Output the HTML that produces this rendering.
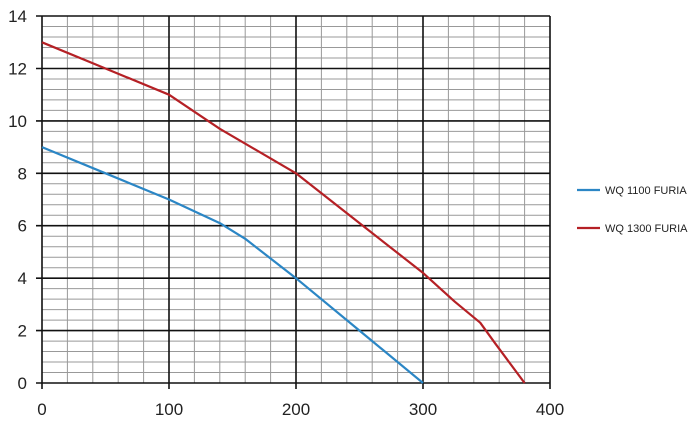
<!DOCTYPE html><html><head><style>body{margin:0;background:#fff}</style></head><body>
<svg width="698" height="422" xmlns="http://www.w3.org/2000/svg" font-family="Liberation Sans, sans-serif">
<path fill="none" stroke="#999" stroke-width="1" d="M67.4 16V383M92.8 16V383M118.2 16V383M143.6 16V383M194.4 16V383M219.8 16V383M245.2 16V383M270.6 16V383M321.4 16V383M346.8 16V383M372.2 16V383M397.6 16V383M448.4 16V383M473.8 16V383M499.2 16V383M524.6 16V383
M42 372.5H550M42 362H550M42 351.5H550M42 341.1H550M42 320.1H550M42 309.6H550M42 299.1H550M42 288.6H550M42 267.7H550M42 257.2H550M42 246.7H550M42 236.2H550M42 215.3H550M42 204.8H550M42 194.3H550M42 183.8H550M42 162.8H550M42 152.3H550M42 141.9H550M42 131.4H550M42 110.4H550M42 99.9H550M42 89.5H550M42 79H550M42 58H550M42 47.5H550M42 37H550M42 26.5H550"/>
<path fill="none" stroke="#111" stroke-width="1.6" d="M42 16V389M169 16V389M296 16V389M423 16V389M550 16V389
M36 383H550M36 330.6H550M36 278.2H550M36 225.7H550M36 173.3H550M36 120.9H550M36 68.5H550M36 16H550"/>
<g font-size="17" fill="#222" text-anchor="middle">
<text x="42" y="415">0</text><text x="169" y="415">100</text><text x="296" y="415">200</text><text x="423" y="415">300</text><text x="550" y="415">400</text>
</g>
<g font-size="17" fill="#222" text-anchor="end">
<text x="27" y="389">0</text><text x="27" y="336.6">2</text><text x="27" y="284.2">4</text><text x="27" y="231.7">6</text><text x="27" y="179.3">8</text><text x="27" y="126.9">10</text><text x="27" y="74.5">12</text><text x="27" y="22">14</text>
</g>
<polyline fill="none" stroke="#2b86c5" stroke-width="2.2" stroke-linejoin="round" points="42,147.1 105.5,173.3 169,199.5 219.8,223.1 245.2,238.8 296,278.2 359.5,330.6 423,383"/>
<polyline fill="none" stroke="#b52025" stroke-width="2.2" stroke-linejoin="round" points="42,42.3 105.5,68.5 169,94.7 219.8,128.8 296,173.3 359.5,223.1 423,272.9 454.8,301.7 480.2,322.7 495.4,343.7 524.6,383"/>
<line x1="577" y1="190" x2="600" y2="190" stroke="#2b86c5" stroke-width="2.2"/><text x="605" y="194" font-size="11" fill="#222">WQ 1100 FURIA</text>
<line x1="577" y1="228" x2="600" y2="228" stroke="#b52025" stroke-width="2.2"/><text x="605" y="232" font-size="11" fill="#222">WQ 1300 FURIA</text>
</svg></body></html>
